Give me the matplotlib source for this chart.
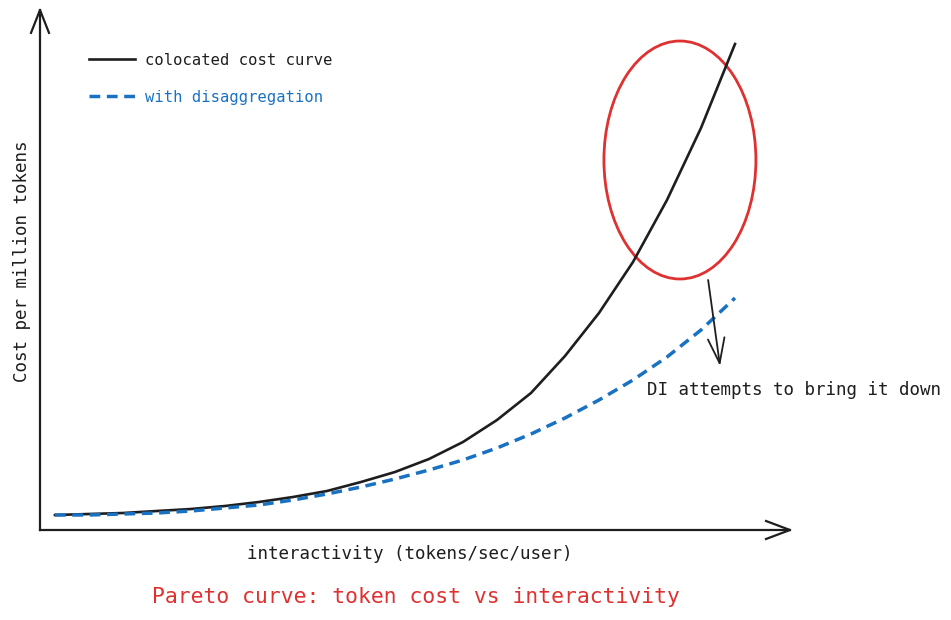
import matplotlib.pyplot as plt
from matplotlib.patches import Ellipse

# interactivity steps (arbitrary units) and cost per million tokens (arbitrary units)
interactivity = list(range(0, 21))
colocated_cost = [3.0, 3.2, 3.4, 3.8, 4.2, 4.8, 5.6, 6.6, 7.8, 9.6, 11.6,
                  14.2, 17.6, 22.0, 27.4, 34.8, 43.4, 53.6, 66.0, 80.4, 97.2]
disagg_cost = [3.0, 3.0, 3.2, 3.4, 3.8, 4.4, 5.0, 6.0, 7.2, 8.6, 10.2,
               12.0, 14.0, 16.4, 19.2, 22.4, 26.0, 30.0, 34.6, 40.0, 46.4]

ink = '#1e1e1e'
blue = '#1971c2'
red = '#e03131'
mono = ['DejaVu Sans Mono']

fig = plt.figure(figsize=(9.51, 6.2), dpi=100)
ax = fig.add_axes([40 / 951, 90 / 620, 750 / 951, 520 / 620])

ax.plot(interactivity, colocated_cost, color=ink, lw=1.9, label='colocated cost curve')
ax.plot(interactivity, disagg_cost, color=blue, lw=2.5, dashes=(3.1, 1.9),
        label='with disaggregation')

ax.set_xlim(-0.441, 21.618)
ax.set_ylim(0, 104)
ax.set_xticks([])
ax.set_yticks([])
for side in ['top', 'right']:
    ax.spines[side].set_visible(False)
for side in ['left', 'bottom']:
    ax.spines[side].set_linewidth(1.6)
    ax.spines[side].set_color(ink)

# open chevron arrow heads on the axes
ax.plot([-0.012, 0, 0.012], [0.956, 1.0, 0.956], transform=ax.transAxes,
        color=ink, lw=1.6, clip_on=False)
ax.plot([0.968, 1.0, 0.968], [0.0173, 0, -0.0173], transform=ax.transAxes,
        color=ink, lw=1.6, clip_on=False)

ax.set_xlabel('interactivity (tokens/sec/user)', fontsize=12.6, family=mono, color=ink)
ax.xaxis.set_label_coords(0.493, -0.028)
ax.set_ylabel('Cost per million tokens', fontsize=12.6, family=mono, color=ink)
ax.yaxis.set_label_coords(-0.012, 0.517)

leg = ax.legend(loc='upper left', bbox_to_anchor=(0.0653, 0.918), frameon=False,
                prop={'family': mono, 'size': 11.2}, handlelength=2.95,
                handletextpad=0.62, labelspacing=1.42, borderpad=0, borderaxespad=0,
                labelcolor='linecolor')

# highlight of the steep part of the curve
ax.add_patch(Ellipse((18.38, 74), width=4.47, height=47.6, fill=False,
                     edgecolor=red, lw=2.0))
ax.annotate('', xy=(19.56, 32.8), xytext=(19.21, 50),
            arrowprops=dict(arrowstyle='->,head_length=0.9,head_width=0.3',
                            color=ink, lw=1.3, mutation_scale=20,
                            shrinkA=0, shrinkB=0))
ax.text(17.41, 28, 'DI attempts to bring it down', fontsize=12.6, family=mono,
        color=ink, ha='left', va='center')

fig.text(416 / 951, 1 - 597 / 620, 'Pareto curve: token cost vs interactivity',
         fontsize=15.4, family=mono, color=red, ha='center', va='center')

fig.savefig('out.png', dpi=100)
